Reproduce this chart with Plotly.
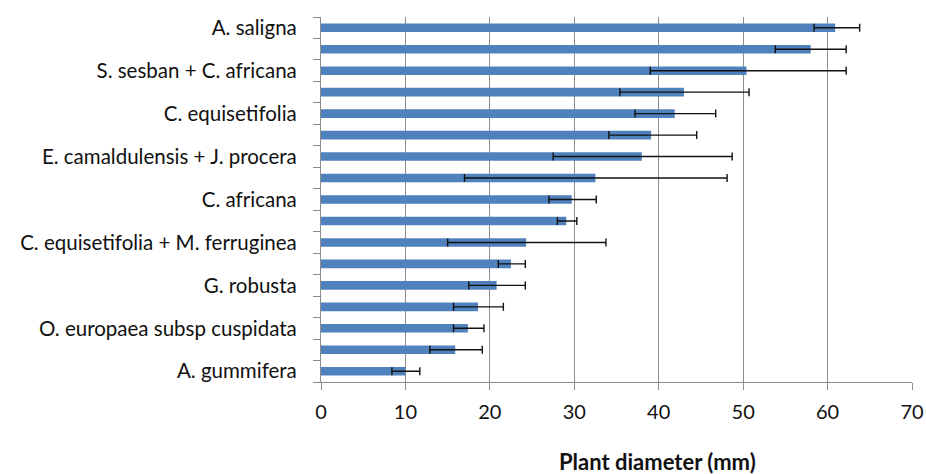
import plotly.graph_objects as go

# Rows listed top to bottom; only every other row carries a label in the source
labels = [
    "A. saligna", "",
    "S. sesban + C. africana", "",
    "C. equisetifolia", "",
    "E. camaldulensis + J. procera", "",
    "C. africana", "",
    "C. equisetifolia + M. ferruginea", "",
    "G. robusta", "",
    "O. europaea subsp cuspidata", "",
    "A. gummifera",
]
diameter = [60.9, 58.0, 50.4, 43.0, 41.9, 39.1, 38.0, 32.5, 29.7, 29.05,
            24.3, 22.5, 20.8, 18.6, 17.4, 15.9, 10.0]
err_lower = [58.4, 53.8, 39.0, 35.4, 37.2, 34.1, 27.5, 17.0, 27.0, 28.0,
             15.0, 21.0, 17.5, 15.7, 15.7, 12.9, 8.4]
err_upper = [63.8, 62.2, 62.2, 50.7, 46.75, 44.5, 48.7, 48.1, 32.6, 30.3,
             33.75, 24.2, 24.2, 21.6, 19.3, 19.1, 11.7]
x_ticks = [0, 10, 20, 30, 40, 50, 60, 70]

row_ids = [f"row{i}" for i in range(len(labels))]
plus = [u - d for u, d in zip(err_upper, diameter)]
minus = [d - l for d, l in zip(diameter, err_lower)]

FONT = "Lato"
GRAY = "#8c8c8c"

fig = go.Figure()
fig.add_trace(go.Bar(
    y=row_ids, x=diameter, orientation="h",
    marker=dict(color="#4F81BD", line=dict(width=0)),
    error_x=dict(type="data", symmetric=False, array=plus, arrayminus=minus,
                 color="#111111", thickness=1.4, width=4),
    showlegend=False,
))

fig.update_layout(
    width=926, height=474,
    margin=dict(l=321, r=14, t=17, b=92, autoexpand=False),
    plot_bgcolor="white", paper_bgcolor="white",
    bargap=0.6,
    font=dict(family=FONT, size=20, color="#111111"),
    xaxis=dict(
        range=[0, 70], tickvals=x_ticks, ticktext=[str(v) for v in x_ticks],
        showgrid=True, gridcolor=GRAY, gridwidth=1.2,
        showline=True, linecolor=GRAY, linewidth=1.2,
        ticks="outside", ticklen=7, tickcolor=GRAY, tickwidth=1.2,
        ticklabelstandoff=5, automargin=False,
        tickfont=dict(family=FONT, size=20, color="#111111"),
        zeroline=False, fixedrange=True,
    ),
    yaxis=dict(
        type="category", categoryorder="array", categoryarray=row_ids,
        tickvals=row_ids, ticktext=labels,
        autorange="reversed", automargin=False,
        tickson="boundaries", ticks="outside", ticklen=7,
        tickcolor=GRAY, tickwidth=1.2,
        showline=True, linecolor=GRAY, linewidth=1.2,
        showgrid=False, ticklabelstandoff=19, fixedrange=True,
        tickfont=dict(family=FONT, size=20.5, color="#111111"),
    ),
)

fig.add_annotation(
    text="<b>Plant diameter (mm)</b>", xref="paper", yref="paper",
    x=0.570, y=-0.219, xanchor="center", yanchor="middle", showarrow=False,
    font=dict(family=FONT, size=22, color="#111111"),
)

fig.write_html("out.html", config={"displayModeBar": False},
               post_script="document.body.style.margin='0';document.body.style.padding='0';")
